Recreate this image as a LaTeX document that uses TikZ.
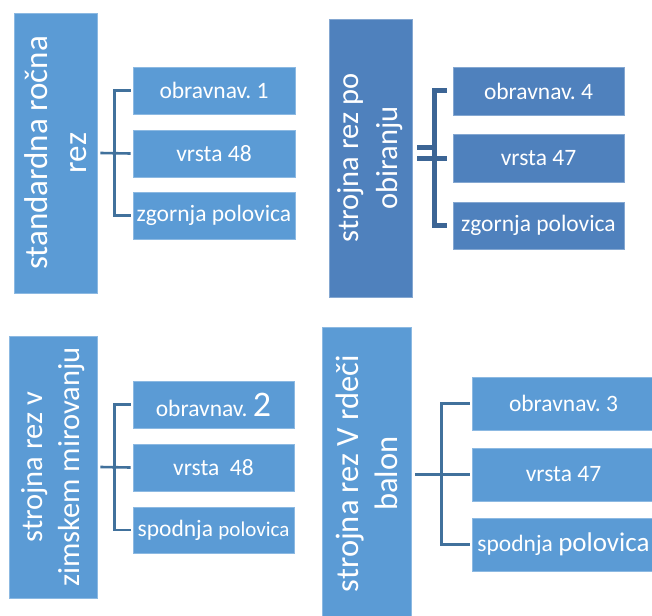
\documentclass[tikz,border=0pt]{standalone}
\usepackage{fontspec}
\setmainfont{Carlito}
\frenchspacing
\definecolor{lb}{HTML}{5B9BD5}
\definecolor{db}{HTML}{4F81BD}
\definecolor{lc}{HTML}{41719C}
\definecolor{dc}{HTML}{3C6595}
\tikzset{
  bigbox/.style={rectangle, fill=lb, draw=white!30!lb, line width=0.8pt, text=white, align=center, inner sep=0pt, rotate=90},
  child/.style={rectangle, fill=lb, draw=white!30!lb, line width=0.8pt, text=white, align=center, inner sep=0pt, font=\fontsize{23.5}{28}\selectfont},
  conn/.style={draw=lc, line width=2.6pt},
  thickconn/.style={draw=dc, line width=5pt}
}
\begin{document}
\begin{tikzpicture}[x=1pt,y=-1pt]
\useasboundingbox (0,0) rectangle (652,615);
\clip (0,0) rectangle (652,615);
\fill[white] (0,0) rectangle (652,615);
% panel 1
\node[bigbox, minimum height=83pt, minimum width=280pt, font=\fontsize{33}{39}\selectfont] (p1) at (55.5,153) {standardna ročna\\rez};
\node[child, minimum width=162pt, minimum height=47pt] (c11) at (214,90.5) {obravnav. 1};
\node[child, minimum width=162pt, minimum height=47pt] (c12) at (214,153.5) {vrsta 48};
\node[child, minimum width=162pt, minimum height=47pt] (c13) at (214,215.5) {zgornja polovica};
\draw[conn] ([xshift=3pt]p1.south) -- ([xshift=-2pt]c12.west);
\draw[conn] ([xshift=-2pt]c11.west) -- ++(-16,0) |- ([xshift=-2pt]c13.west);
% panel 2
\node[bigbox, fill=db, draw=white!30!db, minimum height=83pt, minimum width=278pt, font=\fontsize{30.5}{39}\selectfont] (p2) at (370.5,158) {strojna rez po\\obiranju};
\node[child, fill=db, draw=white!30!db, minimum width=171pt, minimum height=48pt] (c21) at (538.5,91) {obravnav. 4};
\node[child, fill=db, draw=white!30!db, minimum width=171pt, minimum height=48pt] (c22) at (538.5,158) {vrsta 47};
\node[child, fill=db, draw=white!30!db, minimum width=171pt, minimum height=47pt] (c23) at (538.5,225.5) {zgornja polovica};
\draw[thickconn] ([xshift=5pt]p2.south) -- ([xshift=-6pt]c22.west);
\draw[thickconn] ([xshift=5pt,yshift=11pt]p2.south) -- ++(19,0);
\draw[thickconn] ([xshift=-6pt]c21.west) -- ++(-12.5,0) |- ([xshift=-6pt]c23.west);
% panel 3
\node[bigbox, minimum height=88pt, minimum width=262pt, font=\fontsize{30.5}{37}\selectfont] (p3) at (53,467) {strojna rez v\\zimskem mirovanju};
\node[child, minimum width=161pt, minimum height=47pt] (c31) at (213.5,404.5) {obravnav. {\fontsize{36}{36}\selectfont 2}};
\node[child, minimum width=161pt, minimum height=47pt] (c32) at (213.5,467.5) {vrsta\ \ 48};
\node[child, minimum width=161pt, minimum height=46pt] (c33) at (213.5,530) {spodnja {\fontsize{21}{21}\selectfont polovica}};
\draw[conn] ([xshift=3pt]p3.south) -- ([xshift=-2pt]c32.west);
\draw[conn] ([xshift=-2pt]c31.west) -- ++(-16,0) |- ([xshift=-2pt]c33.west);
% panel 4
\node[bigbox, minimum height=89pt, minimum width=293pt, font=\fontsize{32.5}{39}\selectfont] (p4) at (366.5,473.5) {strojna rez V rdeči\\balon};
\node[child, minimum width=183pt, minimum height=53pt] (c41) at (563.5,403.5) {obravnav. 3};
\node[child, minimum width=183pt, minimum height=53pt] (c42) at (563.5,474.5) {vrsta 47};
\node[child, minimum width=183pt, minimum height=53pt] (c43) at (563.5,544.5) {spodnja {\fontsize{27}{27}\selectfont polovica}};
\draw[conn] ([xshift=4pt]p4.south |- c42.west) -- ([xshift=-2pt]c42.west);
\draw[conn] ([xshift=-2pt]c41.west) -- ++(-28,0) |- ([xshift=-2pt]c43.west);
\end{tikzpicture}
\end{document}
